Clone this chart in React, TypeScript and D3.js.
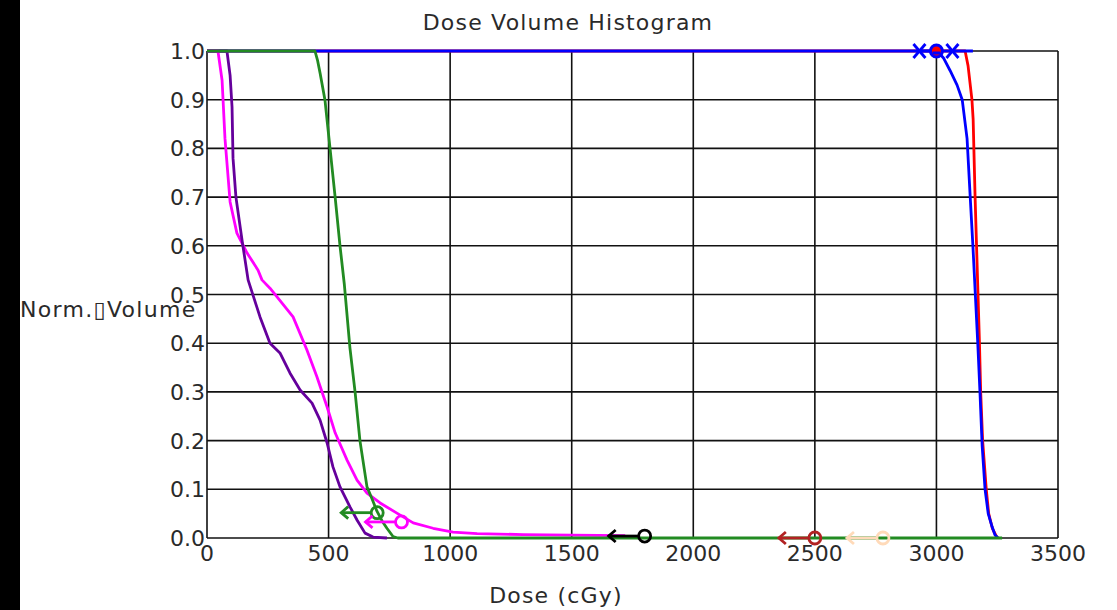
import React from "react";
import * as d3 from "d3";

const doseTicks = [0, 500, 1000, 1500, 2000, 2500, 3000, 3500];
const volumeTicks = [0, 0.1, 0.2, 0.3, 0.4, 0.5, 0.6, 0.7, 0.8, 0.9, 1.0];

const redCurve: [number, number][] = [
  [0, 1], [3118, 1], [3130, 0.97], [3146, 0.9], [3151, 0.86], [3159, 0.7], [3165, 0.6],
  [3171, 0.5], [3177, 0.4], [3182, 0.3], [3190, 0.2], [3205, 0.1], [3215, 0.05], [3230, 0.02], [3250, 0],
];
const blueCurve: [number, number][] = [
  [0, 1], [3003, 1], [3030, 0.985], [3056, 0.96], [3085, 0.93], [3106, 0.9], [3126, 0.82],
  [3139, 0.7], [3150, 0.6], [3160, 0.5], [3170, 0.4], [3179, 0.3], [3188, 0.19], [3200, 0.1],
  [3213, 0.05], [3229, 0.023], [3241, 0.006], [3254, 0],
];
const magentaCurve: [number, number][] = [
  [0, 1], [45, 1], [62, 0.94], [74, 0.82], [95, 0.69], [123, 0.626], [165, 0.585], [210, 0.55],
  [226, 0.53], [259, 0.513], [288, 0.495], [354, 0.454], [411, 0.386], [452, 0.331], [494, 0.269],
  [527, 0.216], [576, 0.16], [617, 0.119], [658, 0.092], [712, 0.072], [781, 0.051], [848, 0.031],
  [930, 0.02], [1012, 0.012], [1111, 0.009], [1300, 0.007], [1500, 0.006], [1720, 0.005],
];
const purpleCurve: [number, number][] = [
  [0, 1], [82, 1], [95, 0.95], [103, 0.885], [107, 0.78], [119, 0.7], [144, 0.612], [169, 0.53],
  [218, 0.454], [259, 0.4], [300, 0.38], [341, 0.339], [383, 0.304], [432, 0.277], [465, 0.242],
  [494, 0.195], [518, 0.146], [547, 0.105], [588, 0.064], [617, 0.037], [650, 0.01], [683, 0.002], [740, 0],
];
const greenCurve: [number, number][] = [
  [0, 1], [444, 1], [455, 0.98], [465, 0.955], [485, 0.9], [506, 0.8], [527, 0.7], [547, 0.6],
  [565, 0.52], [588, 0.39], [609, 0.3], [629, 0.2], [658, 0.105], [679, 0.08], [699, 0.055],
  [720, 0.035], [740, 0.02], [765, 0.003], [785, 0], [3270, 0],
];

const markerDose = [700, 800, 1800, 2500, 2780];
const markerVolume = [0.052, 0.033, 0.004, 0, 0];
const markerColors = ["#228B22", "#FF00FF", "#000000", "#B22222", "#FFDAB9"];

const targetMarkerDose = 3000;
const targetMarkerVolume = 1.0;
const targetArrowEnd = 3150;

const W = 1117;
const H = 610;
const FONT = "'DejaVu Sans', sans-serif";
const TEXT_COLOR = "#2a2a2a";

export default function App() {
  const x = d3.scaleLinear().domain([0, 3500]).range([207, 1058]);
  const y = d3.scaleLinear().domain([0, 1]).range([538, 51]);
  const line = d3
    .line<[number, number]>()
    .x((d) => x(d[0]))
    .y((d) => y(d[1]));

  const curves: { data: [number, number][]; color: string }[] = [
    { data: redCurve, color: "#FF0000" },
    { data: blueCurve, color: "#0000FF" },
    { data: magentaCurve, color: "#FF00FF" },
    { data: purpleCurve, color: "#65009C" },
    { data: greenCurve, color: "#228B22" },
  ];

  const tx = x(targetMarkerDose);
  const ty = y(targetMarkerVolume);

  return (
    <div style={{ position: "absolute", left: 0, top: 0 }}>
      <svg width={W} height={H} style={{ display: "block", background: "#fff" }}>
        <rect x={0} y={0} width={20} height={H} fill="#000" />
        <text x={568} y={30} textAnchor="middle" fontFamily={FONT} fontSize={22} fill={TEXT_COLOR} letterSpacing={1.2}>
          Dose Volume Histogram
        </text>
        {/* grid */}
        {doseTicks.map((t) => (
          <line key={"vx" + t} x1={x(t)} x2={x(t)} y1={y(0)} y2={y(1)} stroke="#111" strokeWidth={1.6} />
        ))}
        {volumeTicks.map((t) => (
          <line key={"hy" + t} x1={x(0)} x2={x(3500)} y1={y(t)} y2={y(t)} stroke="#111" strokeWidth={1.6} />
        ))}
        {/* tick labels */}
        {volumeTicks.map((t) => (
          <text key={"yl" + t} x={x(0) - 2} y={y(t) + 8} textAnchor="end" fontFamily={FONT} fontSize={22} fill={TEXT_COLOR}>
            {t.toFixed(1)}
          </text>
        ))}
        {doseTicks.map((t) => (
          <text key={"xl" + t} x={x(t)} y={561} textAnchor="middle" fontFamily={FONT} fontSize={22} fill={TEXT_COLOR}>
            {t}
          </text>
        ))}
        <text x={20} y={317} fontFamily={FONT} fontSize={22} fill={TEXT_COLOR} letterSpacing={1.3}>
          Norm.▯Volume
        </text>
        <text x={556} y={603} textAnchor="middle" fontFamily={FONT} fontSize={22} fill={TEXT_COLOR} letterSpacing={1.2}>
          Dose (cGy)
        </text>
        {/* curves */}
        {curves.map((c, i) => (
          <path key={"c" + i} d={line(c.data) || ""} fill="none" stroke={c.color} strokeWidth={2.8} strokeLinejoin="round" />
        ))}
        {/* target markers at top */}
        <line x1={tx} x2={x(targetArrowEnd)} y1={ty} y2={ty} stroke="#0000FF" strokeWidth={2.8} />
        <line x1={tx - 20} x2={tx} y1={ty} y2={ty} stroke="#0000FF" strokeWidth={2.8} />
        {[-17, 16].map((dx) => (
          <g key={"tx" + dx} stroke="#0000FF" strokeWidth={2.8}>
            <line x1={tx + dx - 6} x2={tx + dx + 6} y1={ty - 7} y2={ty + 7} />
            <line x1={tx + dx - 6} x2={tx + dx + 6} y1={ty + 7} y2={ty - 7} />
          </g>
        ))}
        <circle cx={tx} cy={ty} r={6} fill="#FF0000" stroke="#0000FF" strokeWidth={3} />
        <line x1={tx - 4} x2={tx + 4} y1={ty + 2} y2={ty + 2} stroke="#0000FF" strokeWidth={3} />
        {/* constraint markers */}
        {markerDose.map((d, i) => {
          const cx = x(d);
          const cy = y(markerVolume[i]);
          const col = markerColors[i];
          const tip = cx - 36;
          return (
            <g key={"m" + i} stroke={col} strokeWidth={2.8} fill="none">
              <line x1={tip} x2={cx - 6} y1={cy} y2={cy} />
              <polyline points={`${tip + 7},${cy - 6} ${tip},${cy} ${tip + 7},${cy + 6}`} />
              <circle cx={cx} cy={cy} r={6} />
            </g>
          );
        })}
      </svg>
    </div>
  );
}
